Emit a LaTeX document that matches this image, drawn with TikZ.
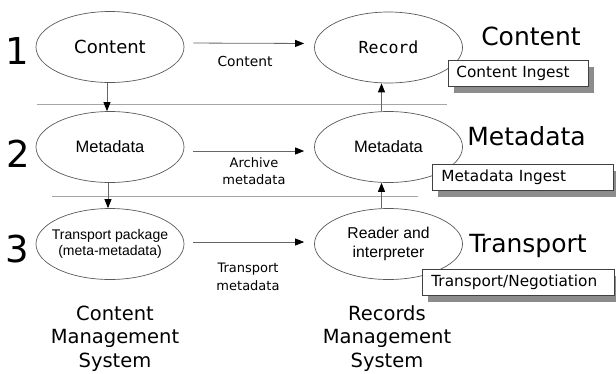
\documentclass[tikz,border=0pt]{standalone}
\usepackage{fontspec}
\setmainfont{DejaVu Sans}
\newfontfamily\arialfont{Liberation Sans}
\newfontfamily\recfont{DejaVu Sans Mono}
\usetikzlibrary{arrows.meta,shapes.geometric,shadows}
\newcommand{\fsz}[2]{\fontsize{#1}{#2}\selectfont}
\tikzset{
	blob/.style={draw=black!65, line width=0.7pt, ellipse, minimum width=148pt, minimum height=71pt, inner sep=0pt, align=center},
	flow/.style={draw=black!60, -{Triangle[length=9pt,width=7pt,color=black]}, line width=0.8pt},
	divider/.style={draw=black!35, line width=0.7pt},
	tag/.style={draw=black!75, fill=white, line width=0.7pt, anchor=north west, minimum height=26pt, inner ysep=0pt, inner xsep=8pt, align=left, font=\fsz{15.3}{18}, drop shadow={shadow xshift=6pt, shadow yshift=-7pt, opacity=1, fill=black!45}},
	bignum/.style={font=\fsz{37}{40}},
	title/.style={font=\fsz{25}{30}, anchor=base},
	system/.style={font=\fsz{19.5}{23.5}, align=center},
}

\begin{document}
\begin{tikzpicture}[x=1pt, y=-1pt]
			%%%%% START %%%%%
			\useasboundingbox (0,0) rectangle (616,373);
			
			\draw[divider] (37,104) -- (447,104);
			\draw[divider] (52,196) -- (418,196);
			
			\node[bignum] (one) at (17.5,51.5) {1};
			\node[bignum] (two) at (18,153.5) {2};
			\node[bignum] (three) at (17,249) {3};
			
			\node[blob, font=\fsz{18}{20}] (cms1) at (110,47) {Content};
			\node[blob, font=\arialfont\fsz{16.5}{19}] (cms2) at (110,147) {Metadata};
			\node[blob, inner xsep=-6pt, font=\arialfont\fsz{14}{16}] (cms3) at (110,244) {Transport package\\(meta-metadata)};
			
			\node[blob, font=\recfont\fsz{16.6}{19}] (rms1) at (388.5,47.5) {Record};
			\node[blob, font=\arialfont\fsz{16.5}{19}] (rms2) at (388.5,147) {Metadata};
			\node[blob, font=\arialfont\fsz{15.7}{19}] (rms3) at (388.5,244) {Reader and\\interpreter};
			
			\draw[flow] ([xshift=-3pt]cms1.south) -- ([xshift=-3pt]cms2.north);
			\draw[flow] ([xshift=-2pt]cms2.south) -- ([xshift=-2pt]cms3.north);
			\draw[flow] ([xshift=-7pt]rms2.north) -- ([xshift=-7pt]rms1.south);
			\draw[flow] ([xshift=-7pt]rms3.north) -- ([xshift=-7pt]rms2.south);
			
			\draw[flow, shorten <=9pt, shorten >=10pt] ([yshift=4pt]cms1.east) -- ([yshift=4pt]rms1.west);
			\draw[flow, shorten <=9pt, shorten >=10pt] ([yshift=-4pt]cms2.east) -- ([yshift=-4pt]rms2.west);
			\draw[flow, shorten <=9pt, shorten >=10pt] ([yshift=2pt]cms3.east) -- ([yshift=2pt]rms3.west);
			
			\node[font=\fsz{13.8}{17}] (lbl1) at (245,61) {Content};
			\node[font=\fsz{13}{17}, align=center] (lbl2) at (254,171.5) {Archive\\metadata};
			\node[font=\fsz{13}{18}, align=center] (lbl3) at (248,277) {Transport\\metadata};
			
			\node[title] (ttl1) at (531,45) {Content};
			\node[title] (ttl2) at (526.5,145) {Metadata};
			\node[title] (ttl3) at (528,252) {Transport};
			
			\node[tag, text width=124pt] (ing1) at (448,60) {Content Ingest};
			\node[tag, text width=163pt, inner xsep=9pt] (ing2) at (432,164) {Metadata Ingest};
			\node[tag, text width=174pt, inner xsep=9pt] (ing3) at (422,269) {Transport/Negotiation};
			
			\node[system] (cms) at (115,338.5) {Content\\Management\\System};
			\node[system] (rms) at (387,338.5) {Records\\Management\\System};
			
			%%%%% END %%%%%
		\end{tikzpicture}
\end{document}
